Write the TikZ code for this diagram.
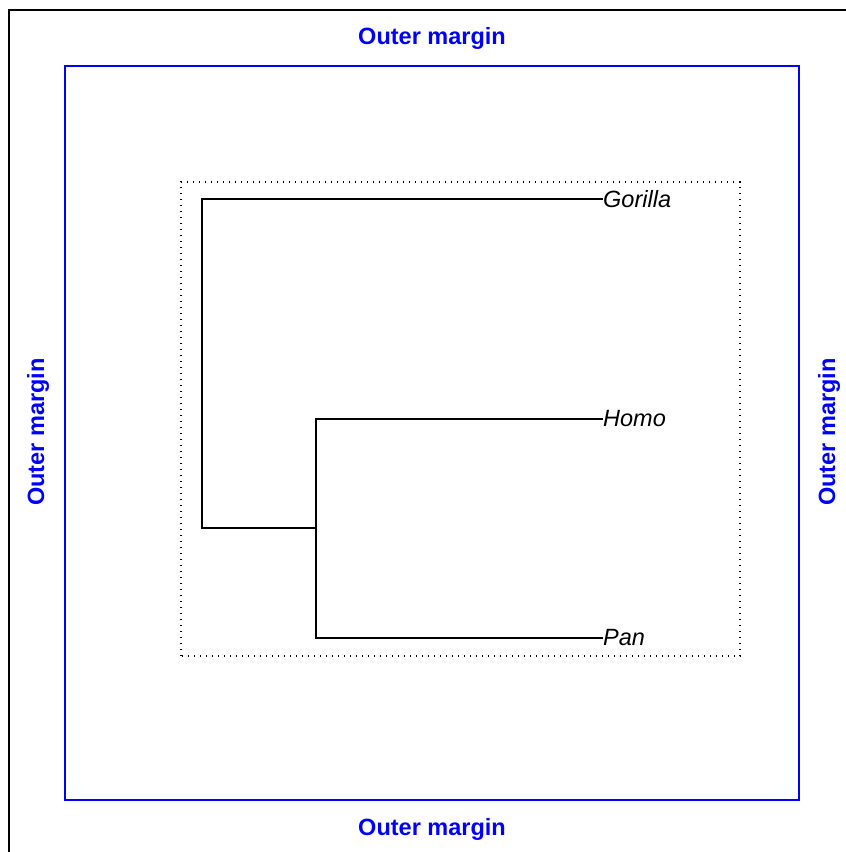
\documentclass[tikz,border=0pt]{standalone}
\usepackage{fontspec}
\setmainfont{Liberation Sans}
\usetikzlibrary{positioning}

\tikzset{
  margintext/.style={text=blue, font=\fontsize{23.5}{28}\selectfont\bfseries, inner sep=0pt},
  tiplabel/.style={font=\fontsize{23.5}{28}\selectfont\itshape, anchor=west, inner sep=0pt},
  branch/.style={line width=1.5pt}
}

\begin{document}
\begin{tikzpicture}[x=1pt,y=1pt]
\useasboundingbox (0,0) rectangle (846,852);
	% device border and outer margin box
	\draw[line width=1.5pt] (9,0) |- (846,842);
    \draw[blue, line width=1.5pt] (65,52) rectangle (799,786);
	\draw[line width=1.3pt, dash pattern=on 1.3pt off 4.7pt] (181,196) rectangle (740,670);

\node[margintext] (mtop) at (432,814) {Outer margin};
\node[margintext] (mbot) at (432,23) {Outer margin};
\node[margintext, rotate=90] (mleft) at (38,420) {Outer margin};
\node[margintext, rotate=90] (mright) at (829,420) {Outer margin};

	% the tree
	\node[tiplabel] (gorilla) at (603,653) {Gorilla};
	\node[tiplabel] (homo) at (603,433) {Homo};
	\node[tiplabel] (pan) at (603,214) {Pan};
	\coordinate (hp) at (316,324);
	\coordinate (root) at (202,324);

\draw[branch] (gorilla.west) -| (root) -- (hp);
\draw[branch] (homo.west) -| (hp) |- (pan.west);

\end{tikzpicture}
\end{document}
